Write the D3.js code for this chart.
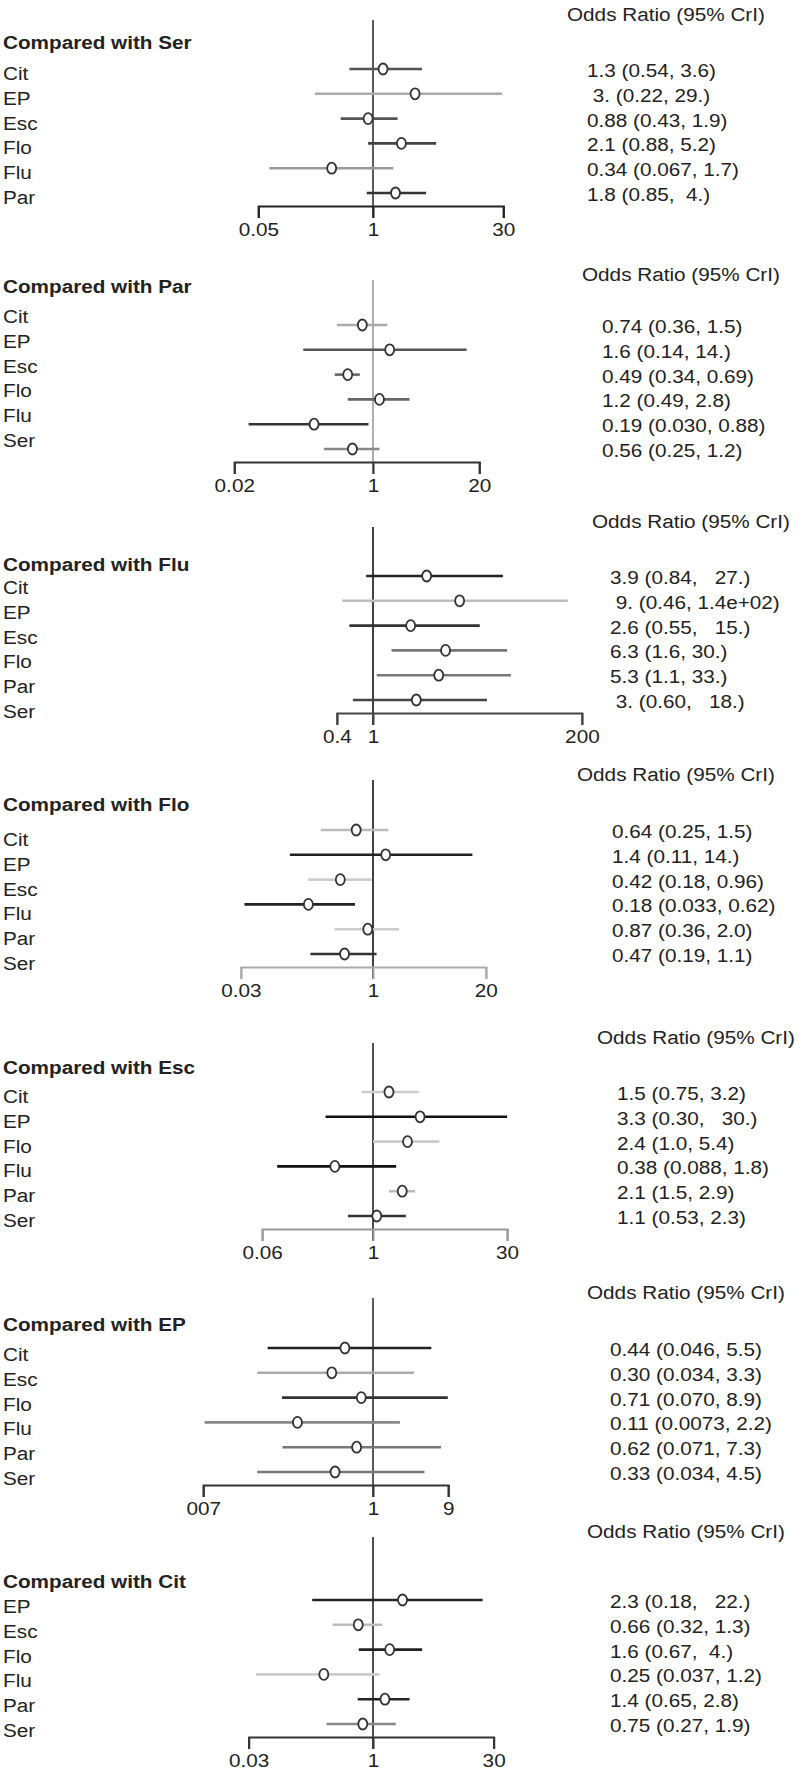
<!DOCTYPE html>
<html><head><meta charset="utf-8">
<script src="https://cdn.jsdelivr.net/npm/d3@7"></script>
<style>
html,body{margin:0;padding:0;background:#fff;}
svg text{font-family:"Liberation Sans",Arial,Helvetica,sans-serif;font-size:18px;white-space:pre;fill:#222;}
</style></head><body><svg id="chart" width="800" height="1772"></svg>
<script>
// ---------- DATA ----------
const comparators = ["Ser","Par","Flu","Flo","Esc","EP","Cit"];
const rowLabels = [
  ["Cit","EP","Esc","Flo","Flu","Par"],
  ["Cit","EP","Esc","Flo","Flu","Ser"],
  ["Cit","EP","Esc","Flo","Par","Ser"],
  ["Cit","EP","Esc","Flu","Par","Ser"],
  ["Cit","EP","Flo","Flu","Par","Ser"],
  ["Cit","Esc","Flo","Flu","Par","Ser"],
  ["EP","Esc","Flo","Flu","Par","Ser"]
];
const medians = [
  [1.3, 3.0, 0.88, 2.1, 0.34, 1.8],
  [0.74, 1.6, 0.49, 1.2, 0.19, 0.56],
  [3.9, 9.0, 2.6, 6.3, 5.3, 3.0],
  [0.64, 1.4, 0.42, 0.18, 0.87, 0.47],
  [1.5, 3.3, 2.4, 0.38, 2.1, 1.1],
  [0.44, 0.30, 0.71, 0.11, 0.62, 0.33],
  [2.3, 0.66, 1.6, 0.25, 1.4, 0.75]
];
const lowers = [
  [0.54, 0.22, 0.43, 0.88, 0.067, 0.85],
  [0.36, 0.14, 0.34, 0.49, 0.030, 0.25],
  [0.84, 0.46, 0.55, 1.6, 1.1, 0.60],
  [0.25, 0.11, 0.18, 0.033, 0.36, 0.19],
  [0.75, 0.30, 1.0, 0.088, 1.5, 0.53],
  [0.046, 0.034, 0.070, 0.0073, 0.071, 0.034],
  [0.18, 0.32, 0.67, 0.037, 0.65, 0.27]
];
const uppers = [
  [3.6, 29, 1.9, 5.2, 1.7, 4.0],
  [1.5, 14, 0.69, 2.8, 0.88, 1.2],
  [27, 140, 15, 30, 33, 18],
  [1.5, 14, 0.96, 0.62, 2.0, 1.1],
  [3.2, 30, 5.4, 1.8, 2.9, 2.3],
  [5.5, 3.3, 8.9, 2.2, 7.3, 4.5],
  [22, 1.3, 4.0, 1.2, 2.8, 1.9]
];
const valueTexts = [
  ["1.3 (0.54, 3.6)", " 3. (0.22, 29.)", "0.88 (0.43, 1.9)", "2.1 (0.88, 5.2)", "0.34 (0.067, 1.7)", "1.8 (0.85,  4.)"],
  ["0.74 (0.36, 1.5)", "1.6 (0.14, 14.)", "0.49 (0.34, 0.69)", "1.2 (0.49, 2.8)", "0.19 (0.030, 0.88)", "0.56 (0.25, 1.2)"],
  ["3.9 (0.84,   27.)", " 9. (0.46, 1.4e+02)", "2.6 (0.55,   15.)", "6.3 (1.6, 30.)", "5.3 (1.1, 33.)", " 3. (0.60,   18.)"],
  ["0.64 (0.25, 1.5)", "1.4 (0.11, 14.)", "0.42 (0.18, 0.96)", "0.18 (0.033, 0.62)", "0.87 (0.36, 2.0)", "0.47 (0.19, 1.1)"],
  ["1.5 (0.75, 3.2)", "3.3 (0.30,   30.)", "2.4 (1.0, 5.4)", "0.38 (0.088, 1.8)", "2.1 (1.5, 2.9)", "1.1 (0.53, 2.3)"],
  ["0.44 (0.046, 5.5)", "0.30 (0.034, 3.3)", "0.71 (0.070, 8.9)", "0.11 (0.0073, 2.2)", "0.62 (0.071, 7.3)", "0.33 (0.034, 4.5)"],
  ["2.3 (0.18,   22.)", "0.66 (0.32, 1.3)", "1.6 (0.67,  4.)", "0.25 (0.037, 1.2)", "1.4 (0.65, 2.8)", "0.75 (0.27, 1.9)"]
];
const tickValues = [
  [0.05, 1, 30], [0.02, 1, 20], [0.4, 1, 200], [0.03, 1, 20],
  [0.06, 1, 30], [0.007, 1, 9], [0.03, 1, 30]
];
const tickLabels = [
  ["0.05","1","30"], ["0.02","1","20"], ["0.4","1","200"], ["0.03","1","20"],
  ["0.06","1","30"], ["007","1","9"], ["0.03","1","30"]
];
const headerText = "Odds Ratio (95% CrI)";

// ---------- STYLE / LAYOUT ----------
const ciShades = [
  ["#555","#aaa","#555","#444","#999","#333"],
  ["#aaa","#555","#666","#666","#333","#888"],
  ["#222","#bbb","#333","#777","#777","#444"],
  ["#bbb","#222","#ccc","#222","#ccc","#333"],
  ["#ccc","#111","#ccc","#111","#bbb","#333"],
  ["#222","#aaa","#333","#888","#777","#777"],
  ["#222","#bbb","#222","#ccc","#222","#888"]
];
const axisShade = ["#222","#333","#444","#aaa","#999","#333","#333"];
const refShade  = ["#333","#999","#111","#111","#222","#333","#222"];
const headerY   = [15, 275, 522, 775, 1038, 1293, 1532];
const titleY    = [43, 287, 565, 805, 1068, 1325, 1582];
const firstRowY = [69, 325, 576, 830, 1092, 1348, 1600];
const labelShift= [5, -8, 12, 10, 5, 7, 7];
const headerX   = [567, 582, 592, 577, 597, 587, 587];
const valueX    = [587, 602, 610, 612, 617, 610, 610];
const ROW_STEP = 24.8, X_ONE = 373, AXIS_W = 245, STRETCH = 1.15;

const svg = d3.select("#chart");

comparators.forEach((comp, p) => {
  const g = svg.append("g");
  const ticks = tickValues[p];
  const lo = ticks[0], hi = ticks[ticks.length - 1];
  const frac = Math.log(1 / lo) / Math.log(hi / lo);
  const x0 = X_ONE - frac * AXIS_W;
  const x = d3.scaleLog().domain([lo, hi]).range([x0, x0 + AXIS_W]);
  const rows = d3.range(rowLabels[p].length);
  const y = d3.scaleLinear().domain([0, 1]).range([firstRowY[p], firstRowY[p] + ROW_STEP]);
  const axisY = y(rows.length - 1) + 13;

  // header
  g.append("text").attr("class","stretch").attr("x", headerX[p]).attr("y", headerY[p])
    .attr("dominant-baseline","central").text(headerText);
  // title
  g.append("text").attr("class","stretch").attr("x", 3).attr("y", titleY[p])
    .attr("dominant-baseline","central").style("font-weight","bold")
    .text("Compared with " + comp);
  // row labels
  g.selectAll(".rl").data(rows).join("text").attr("class","stretch")
    .attr("x", 3).attr("y", i => y(i) + labelShift[p])
    .attr("dominant-baseline","central").text(i => rowLabels[p][i]);
  // value texts
  g.selectAll(".vt").data(rows).join("text").attr("class","stretch")
    .attr("x", valueX[p]).attr("y", i => y(i) + 2)
    .attr("dominant-baseline","central").text(i => valueTexts[p][i]);

  // reference line at 1
  g.append("line").attr("x1", x(1)).attr("x2", x(1))
    .attr("y1", headerY[p] + 5).attr("y2", axisY + 12)
    .attr("stroke", refShade[p]).attr("stroke-width", 1.6);

  // CI lines
  g.selectAll(".ci").data(rows).join("line")
    .attr("x1", i => x(lowers[p][i])).attr("x2", i => x(uppers[p][i]))
    .attr("y1", i => y(i)).attr("y2", i => y(i))
    .attr("stroke", i => ciShades[p][i]).attr("stroke-width", 2.6);
  // markers
  g.selectAll(".pt").data(rows).join("ellipse")
    .attr("cx", i => x(medians[p][i])).attr("cy", i => y(i))
    .attr("rx", 4.5).attr("ry", 5.5)
    .attr("fill", "#fff").attr("stroke", "#333").attr("stroke-width", 1.8);

  // axis
  const axis = d3.axisBottom(x).tickValues(ticks)
    .tickFormat((d, i) => tickLabels[p][i]).tickSize(12).tickPadding(5);
  const ag = g.append("g").attr("transform", `translate(0,${axisY})`).call(axis);
  ag.select(".domain").attr("stroke", axisShade[p]).attr("stroke-width", 2);
  ag.selectAll(".tick line").attr("stroke", axisShade[p]).attr("stroke-width", 2);
  ag.selectAll(".tick text").attr("class","stretch")
    .style("font-size","18px").style("font-family",'"Liberation Sans",Arial,sans-serif')
    .attr("fill","#222");
});

// slight horizontal stretch of all text, as in the reference
svg.selectAll("text.stretch").each(function() {
  const L = this.getComputedTextLength();
  d3.select(this).attr("textLength", L * STRETCH).attr("lengthAdjust", "spacingAndGlyphs");
});
</script></body></html>
